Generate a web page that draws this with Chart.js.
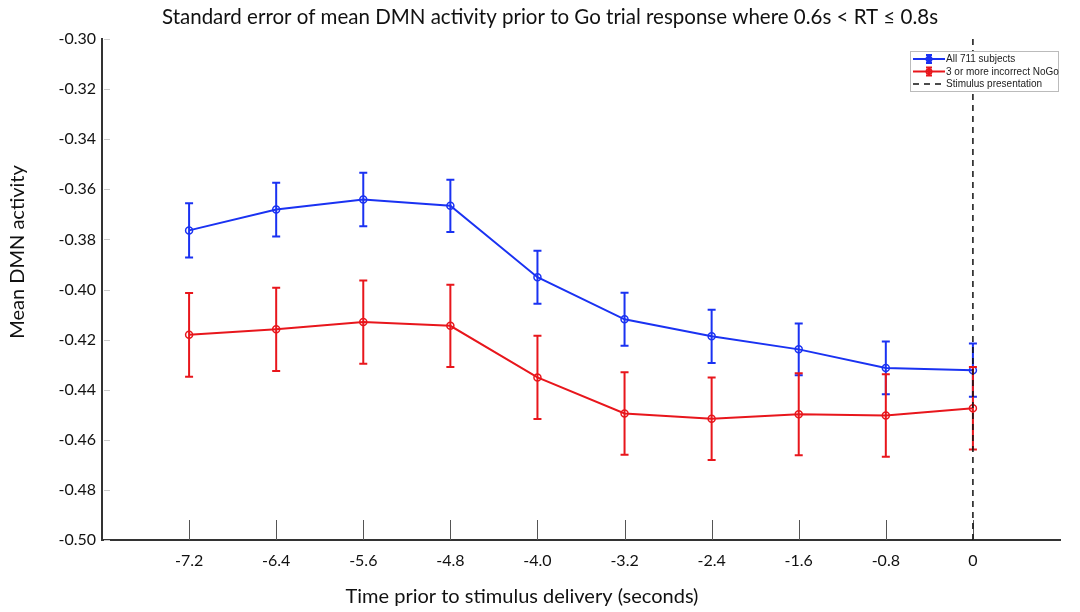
<!DOCTYPE html>
<html>
<head>
<meta charset="utf-8">
<script src="https://cdn.jsdelivr.net/npm/chart.js@4"></script>
<style>
  html, body { margin: 0; padding: 0; background: #fff; }
  #wrap { width: 1080px; height: 612px; }
</style>
</head>
<body>
<div id="wrap"><canvas id="dmn"></canvas></div>
<script>
// time points (seconds before stimulus) and tick labels
var times = [-7.2, -6.4, -5.6, -4.8, -4.0, -3.2, -2.4, -1.6, -0.8, 0];
var xTickLabels = ['-7.2', '-6.4', '-5.6', '-4.8', '-4.0', '-3.2', '-2.4', '-1.6', '-0.8', '0'];

// mean DMN activity and standard error, all subjects
var allMean = [-0.3764, -0.3681, -0.3641, -0.3666, -0.3951, -0.4119, -0.4187, -0.4239, -0.4313, -0.4322];
var allErr  = [0.0108, 0.0107, 0.0107, 0.0104, 0.0106, 0.0106, 0.0106, 0.0103, 0.0105, 0.0106];

// 3 or more incorrect NoGo
var nogoMean = [-0.4181, -0.4159, -0.4130, -0.4145, -0.4351, -0.4495, -0.4516, -0.4498, -0.4503, -0.4474];
var nogoErr  = [0.0167, 0.0166, 0.0166, 0.0164, 0.0166, 0.0165, 0.0165, 0.0164, 0.0165, 0.0165];

var titleText = 'Standard error of mean DMN activity prior to Go trial response where 0.6s < RT \u2264 0.8s';
var xTitle = 'Time prior to stimulus delivery (seconds)';
var yTitle = 'Mean DMN activity';

var blue = '#1a32f2';
var red = '#e8161c';
var font = 'Lato, "Liberation Sans", sans-serif';

function toPoints(xs, ys) {
    return xs.map(function(x, i) { return {x: x, y: ys[i]}; });
}

// error bars, ticks inside the axes, titles and the boxed legend
var extras = {
    id: 'extras',
    afterDatasetDraw: function(chart, args) {
        var ds = chart.data.datasets[args.index];
        if (!ds.errors) return;
        var ctx = chart.ctx;
        var xs = chart.scales.x, ys = chart.scales.y;
        ctx.save();
        ctx.strokeStyle = ds.borderColor;
        ctx.lineWidth = 2;
        ds.data.forEach(function(p, i) {
            var px = xs.getPixelForValue(p.x);
            var top = ys.getPixelForValue(p.y + ds.errors[i]);
            var bot = ys.getPixelForValue(p.y - ds.errors[i]);
            ctx.beginPath();
            ctx.moveTo(px, top); ctx.lineTo(px, bot);
            ctx.moveTo(px - 4, top); ctx.lineTo(px + 4, top);
            ctx.moveTo(px - 4, bot); ctx.lineTo(px + 4, bot);
            ctx.stroke();
        });
        ctx.restore();
    },
    beforeDatasetsDraw: function(chart) {
        var ctx = chart.ctx, area = chart.chartArea;
        var xs = chart.scales.x, ys = chart.scales.y;
        ctx.save();
        ctx.lineWidth = 1;
        ctx.strokeStyle = '#555';
        xs.ticks.forEach(function(t) {
            var px = Math.round(xs.getPixelForValue(t.value)) + 0.5;
            ctx.beginPath();
            ctx.moveTo(px, area.bottom);
            ctx.lineTo(px, area.bottom - 20);
            ctx.stroke();
        });
        ctx.strokeStyle = '#ccc';
        ys.ticks.forEach(function(t) {
            var py = Math.round(ys.getPixelForValue(t.value)) + 0.5;
            ctx.beginPath();
            ctx.moveTo(area.left + 2, py);
            ctx.lineTo(area.left + 8, py);
            ctx.stroke();
        });
        ctx.restore();
    },
    afterDraw: function(chart) {
        var ctx = chart.ctx, area = chart.chartArea;
        ctx.save();

        // titles
        ctx.fillStyle = '#111';
        ctx.textAlign = 'center';
        ctx.textBaseline = 'middle';
        ctx.font = '20.5px ' + font;
        ctx.fillText(titleText, 550, 17);
        ctx.font = '20px ' + font;
        ctx.fillText(xTitle, 522, 597);
        ctx.save();
        ctx.translate(18, 252);
        ctx.rotate(-Math.PI / 2);
        ctx.fillText(yTitle, 0, 0);
        ctx.restore();

        // legend
        var w = 148, h = 40;
        var bx = area.right - w - 2, by = area.top + 12;
        ctx.fillStyle = '#fff';
        ctx.fillRect(bx, by, w, h);
        ctx.strokeStyle = '#bbb';
        ctx.lineWidth = 1;
        ctx.strokeRect(bx + 0.5, by + 0.5, w, h);
        ctx.font = '10px "Liberation Sans", Arial, sans-serif';
        ctx.textAlign = 'left';
        ctx.textBaseline = 'middle';
        chart.data.datasets.forEach(function(ds, i) {
            var y = by + 8 + i * 12.5;
            ctx.strokeStyle = ds.borderColor;
            ctx.lineWidth = ds.errors ? 2 : 1.5;
            ctx.setLineDash(ds.borderDash || []);
            ctx.beginPath();
            ctx.moveTo(bx + 3, y); ctx.lineTo(bx + 35, y);
            ctx.stroke();
            ctx.setLineDash([]);
            if (ds.errors) {
                var cx = bx + 19;
                ctx.beginPath();
                ctx.moveTo(cx, y - 4); ctx.lineTo(cx, y + 4);
                ctx.moveTo(cx - 3, y - 4); ctx.lineTo(cx + 3, y - 4);
                ctx.moveTo(cx - 3, y + 4); ctx.lineTo(cx + 3, y + 4);
                ctx.stroke();
                ctx.beginPath();
                ctx.arc(cx, y, 2.5, 0, Math.PI * 2);
                ctx.stroke();
            }
            ctx.fillStyle = '#222';
            ctx.fillText(ds.label, bx + 36, y + 0.5);
        });
        ctx.restore();
    }
};

var chart = new Chart(document.getElementById('dmn'), {
    type: 'line',
    data: {
        datasets: [{
            label: 'All 711 subjects',
            data: toPoints(times, allMean),
            errors: allErr,
            borderColor: blue,
            borderWidth: 2,
            pointRadius: 3.5,
            pointBorderWidth: 1.5,
            pointBackgroundColor: 'rgba(0,0,0,0)',
            pointBorderColor: blue,
            order: 3
        }, {
            label: '3 or more incorrect NoGo',
            data: toPoints(times, nogoMean),
            errors: nogoErr,
            borderColor: red,
            borderWidth: 2,
            pointRadius: 3.5,
            pointBorderWidth: 1.5,
            pointBackgroundColor: 'rgba(0,0,0,0)',
            pointBorderColor: red,
            order: 2
        }, {
            label: 'Stimulus presentation',
            data: [{x: 0, y: -0.30}, {x: 0, y: -0.50}],
            borderColor: '#111',
            borderWidth: 1.5,
            borderDash: [6, 5],
            pointRadius: 0,
            order: 1
        }]
    },
    options: {
        responsive: true,
        maintainAspectRatio: false,
        animation: false,
        layout: { padding: { left: 0, right: 20, top: 39, bottom: 0 } },
        plugins: {
            legend: { display: false },
            tooltip: { enabled: false },
            title: { display: false }
        },
        scales: {
            x: {
                type: 'linear',
                min: -8.0,
                max: 0.8,
                afterFit: function(s) { s.height = 72; },
                afterBuildTicks: function(s) {
                    s.ticks = times.map(function(v) { return {value: v}; });
                },
                grid: { display: false, drawTicks: false },
                border: { display: true, color: '#333', width: 2 },
                ticks: {
                    padding: 11,
                    color: '#111',
                    font: { family: font, size: 16 },
                    callback: function(v, i) { return xTickLabels[i]; }
                }
            },
            y: {
                min: -0.50,
                max: -0.30,
                afterFit: function(s) { s.width = 102; },
                grid: { display: false, drawTicks: false },
                border: { display: true, color: '#333', width: 2 },
                ticks: {
                    stepSize: 0.02,
                    padding: 6,
                    color: '#111',
                    font: { family: font, size: 16 },
                    callback: function(v) { return v.toFixed(2); }
                }
            }
        }
    },
    plugins: [extras]
});
</script>
</body>
</html>
